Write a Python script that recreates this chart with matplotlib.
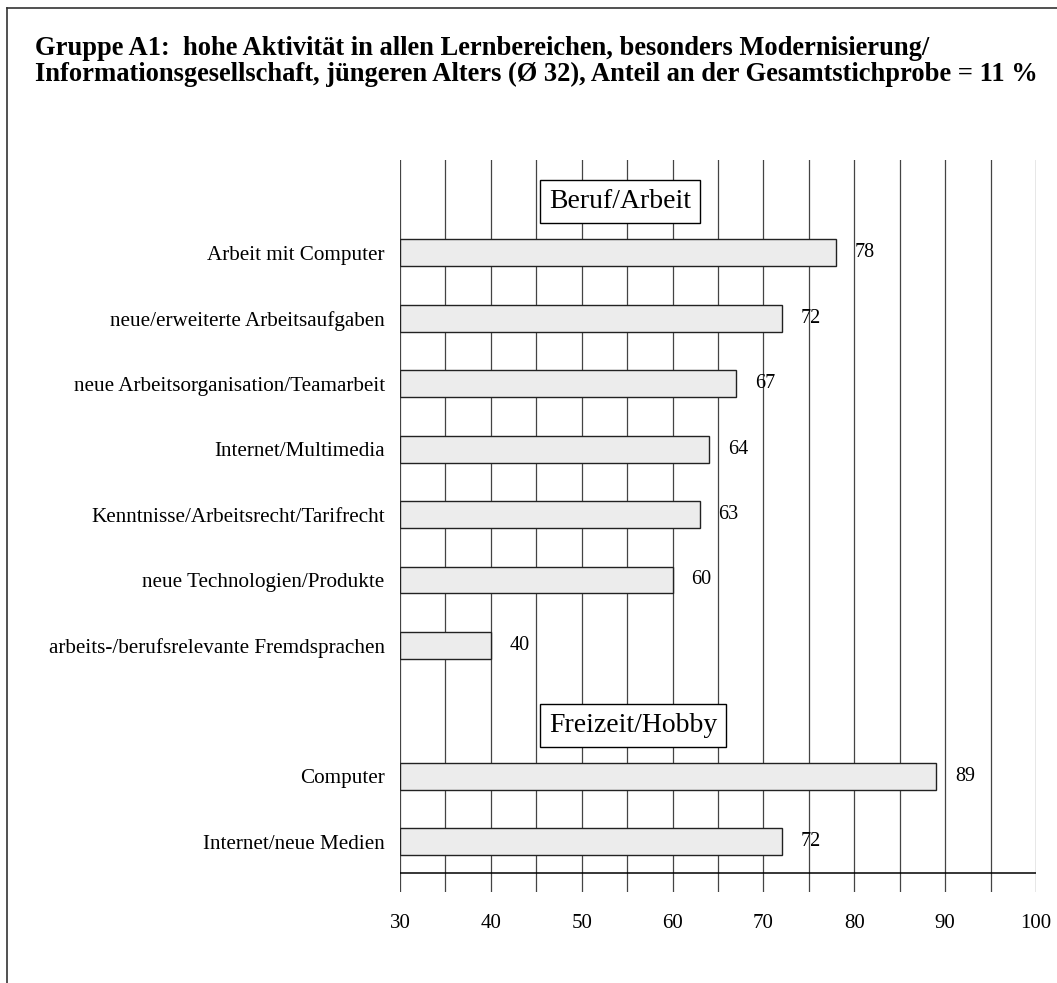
import matplotlib
matplotlib.use('Agg')
import matplotlib.pyplot as plt
from matplotlib.lines import Line2D

plt.rcParams['font.family'] = ['Liberation Serif', 'DejaVu Serif']

# data
labels = ['Arbeit mit Computer', 'neue/erweiterte Arbeitsaufgaben',
          'neue Arbeitsorganisation/Teamarbeit', 'Internet/Multimedia',
          'Kenntnisse/Arbeitsrecht/Tarifrecht', 'neue Technologien/Produkte',
          'arbeits-/berufsrelevante Fremdsprachen',
          'Computer', 'Internet/neue Medien']
values = [78, 72, 67, 64, 63, 60, 40, 89, 72]
rows = [0, 1, 2, 3, 4, 5, 6, 8, 9]
groups = ['Beruf/Arbeit', 'Freizeit/Hobby']
group_rows = [-0.79, 7.23]
xticks = [30, 40, 50, 60, 70, 80, 90, 100]

title_lines = ['Gruppe A1:  hohe Aktivität in allen Lernbereichen, besonders Modernisierung/',
               'Informationsgesellschaft, jüngeren Alters (Ø 32), Anteil an der Gesamtstichprobe = 11 %']

fig = plt.figure(figsize=(10.57, 9.83), dpi=100)
W, H = 1057, 983
ax = fig.add_axes([400 / W, 1 - 892 / H, 636 / W, 732 / H])

ax.set_xlim(30, 100)
ax.set_ylim(9.77, -1.42)

# vertical grid every 5
for gx in range(30, 101, 5):
    ax.axvline(gx, color='#444444', lw=0.9, zorder=1)
ax.axhline(9.48, color='black', lw=1.1, zorder=1)

ax.barh(rows, [v - 30 for v in values], left=30, height=0.41,
        color='#ececec', edgecolor='#222222', linewidth=1.0, zorder=2)

for r, v in zip(rows, values):
    ax.annotate(str(v), (v, r), xytext=(13.5, 0), textcoords='offset points',
                ha='left', va='center', fontsize=14.5, zorder=3)

for g, r in zip(groups, group_rows):
    ax.text(46.4, r, g, ha='left', va='center', fontsize=20, zorder=4,
            bbox=dict(boxstyle='square,pad=0.32', fc='white', ec='black', lw=1.0))

ax.set_yticks(rows)
ax.set_yticklabels(labels, fontsize=15.2)
ax.set_xticks(xticks)
ax.set_xticklabels([str(t) for t in xticks], fontsize=15)
ax.tick_params(axis='both', length=0)
ax.tick_params(axis='x', pad=16)
ax.tick_params(axis='y', pad=11)
for s in ax.spines.values():
    s.set_visible(False)

for i, line in enumerate(title_lines):
    fig.text(35 / W, 1 - (55 + 26 * i) / H, line, ha='left', va='baseline',
             fontsize=19.1, fontweight='bold')

# outer frame (left and top edges)
fig.add_artist(Line2D([7 / W, 7 / W], [0, 1 - 8 / H], color='#333333', lw=1.2))
fig.add_artist(Line2D([7 / W, 1], [1 - 8 / H, 1 - 8 / H], color='#333333', lw=1.2))

fig.savefig('out.png', dpi=100)
